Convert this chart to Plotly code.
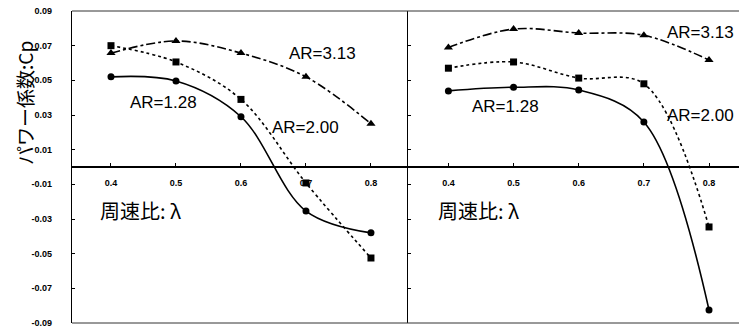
import plotly.graph_objects as go

lam = [0.4, 0.5, 0.6, 0.7, 0.8]

# Left panel
left_ar128 = [0.052, 0.0496, 0.029, -0.0254, -0.038]
left_ar200 = [0.070, 0.0606, 0.039, -0.0092, -0.0525]
left_ar313 = [0.0657, 0.0727, 0.0657, 0.052, 0.025]

# Right panel
right_ar128 = [0.0439, 0.046, 0.0444, 0.026, -0.0825]
right_ar200 = [0.057, 0.0606, 0.0513, 0.048, -0.0346]
right_ar313 = [0.069, 0.0796, 0.0773, 0.076, 0.0617]

y_ticks = [0.09, 0.07, 0.05, 0.03, 0.01, -0.01, -0.03, -0.05, -0.07, -0.09]
y_ticktext = ["0.09", "0.07", "0.05", "0.03", "0.01", "-0.01", "-0.03", "-0.05", "-0.07", "-0.09"]
x_ticks = [0.4, 0.5, 0.6, 0.7, 0.8]
x_ticktext = ["0.4", "0.5", "0.6", "0.7", "0.8"]

W, H = 739, 328
fig = go.Figure()

styles = [
    ("AR=1.28", "solid", "circle", 7),
    ("AR=2.00", "dot", "square", 7),
    ("AR=3.13", "dashdot", "triangle-up", 8),
]

for (xa, ya), series in [(("x", "y"), [left_ar128, left_ar200, left_ar313]),
                         (("x2", "y2"), [right_ar128, right_ar200, right_ar313])]:
    for (name, dash, sym, size), vals in zip(styles, series):
        fig.add_trace(go.Scatter(
            x=lam, y=vals, xaxis=xa, yaxis=ya, name=name,
            mode="lines+markers",
            line=dict(color="black", width=1.6, dash=dash, shape="spline", smoothing=1.0),
            marker=dict(color="black", symbol=sym, size=size),
            showlegend=False,
        ))

xl0, xl1 = 72, 408
ytop, ybot, yzero = 11, 323, 167
dom_y = [1 - ybot / H, 1 - ytop / H]

tickfont = dict(family="Liberation Sans, Arial", size=9, color="black", weight="bold")

common_x = dict(range=[0.34, 0.857], tickvals=x_ticks, ticktext=x_ticktext,
                showgrid=False, zeroline=False, showline=True, linecolor="black", linewidth=1.6,
                ticks="inside", ticklen=3, tickcolor="black", tickfont=tickfont,
                anchor="free", position=1 - yzero / H, ticklabelstandoff=7, automargin=False,
                ticklabeloverflow="allow")
common_y = dict(range=[-0.09, 0.09], tickvals=y_ticks, ticktext=y_ticktext,
                showgrid=False, zeroline=False, showline=True, linecolor="black", linewidth=1.3,
                ticks="inside", ticklen=3, tickcolor="black", tickfont=tickfont,
                domain=dom_y, automargin=False, ticklabeloverflow="allow")

fig.update_layout(
    template="none",
    width=W, height=H,
    margin=dict(l=0, r=0, t=0, b=0, autoexpand=False),
    paper_bgcolor="white", plot_bgcolor="white",
    xaxis=dict(domain=[xl0 / W, xl1 / W], **common_x),
    xaxis2=dict(domain=[xl1 / W, 1.0], **{**common_x, "range": [0.338, 0.846]}),
    yaxis=dict(anchor="x", ticklabelstandoff=17, **common_y),
    yaxis2=dict(anchor="x2", showticklabels=False, **common_y),
)

# frame lines top/bottom
for yy in (ytop, ybot):
    fig.add_shape(type="line", xref="paper", yref="paper",
                  x0=xl0 / W, x1=1.0, y0=1 - yy / H, y1=1 - yy / H,
                  line=dict(color="#333333", width=1))

lab_font = dict(family="Liberation Sans, Arial", size=17, color="black")
labels = [
    ("AR=3.13", 322, 53), ("AR=1.28", 163, 103), ("AR=2.00", 305, 127),
    ("AR=3.13", 700, 33), ("AR=1.28", 505, 107), ("AR=2.00", 700, 115),
]
for t, px, py in labels:
    fig.add_annotation(text=t, xref="paper", yref="paper", x=px / W, y=1 - py / H,
                       showarrow=False, font=lab_font, xanchor="center", yanchor="middle")

cjk = dict(family="Noto Sans CJK JP", size=20, color="black")
for px in (140, 478):
    fig.add_annotation(text="周速比: λ", xref="paper", yref="paper", x=px / W, y=1 - 210 / H,
                       showarrow=False, font=cjk, xanchor="center", yanchor="middle")

fig.add_annotation(text="パワー係数:Cp", xref="paper", yref="paper", x=25 / W, y=1 - 103 / H,
                   showarrow=False, font=dict(family="Noto Sans CJK JP", size=19, color="black"),
                   textangle=-90, xanchor="center", yanchor="middle")

fig.write_html("out.html", config={"displayModeBar": False},
               post_script="document.body.style.margin='0';document.body.style.padding='0';document.body.style.overflow='hidden';")
